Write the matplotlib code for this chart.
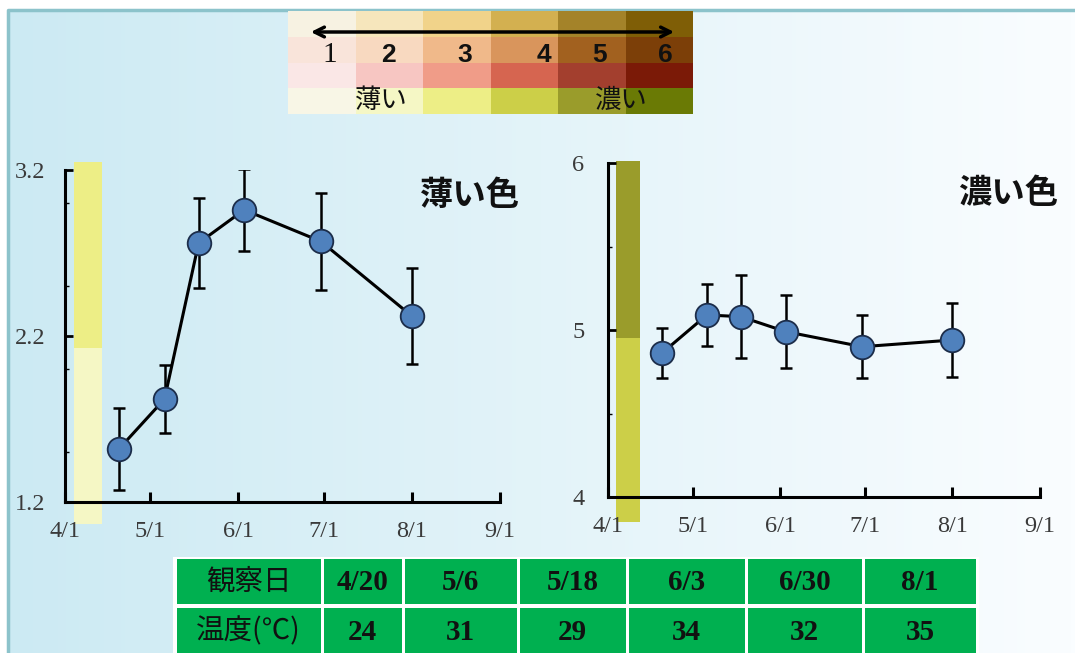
import datetime as dt
import numpy as np
import matplotlib
matplotlib.use("Agg")
import matplotlib.pyplot as plt
from matplotlib.patches import Rectangle
import matplotlib.ticker as mticker

# ---------------- data ----------------
obs_dates = ["4/20", "5/6", "5/18", "6/3", "6/30", "8/1"]
temps = [24, 31, 29, 34, 32, 35]
light_mean = [1.52, 1.82, 2.76, 2.96, 2.77, 2.32]
light_err = [0.245, 0.205, 0.27, 0.245, 0.29, 0.29]
dark_mean = [4.86, 5.09, 5.08, 4.99, 4.90, 4.94]
dark_err = [0.15, 0.185, 0.25, 0.22, 0.19, 0.22]
month_ticks = ["4/1", "5/1", "6/1", "7/1", "8/1", "9/1"]
light_ticks = [1.2, 2.2, 3.2]
dark_ticks = [4, 5, 6]
light_band_edges = [1.07, 2.13, 3.25]
dark_band_edges = [3.85, 4.95, 6.01]
scale_labels = ["1", "2", "3", "4", "5", "6"]
scale_colors = [
    ["#F7F2E2", "#F6E6BC", "#F1D38A", "#D3B050", "#A48329", "#7F5E06"],
    ["#F9E4DA", "#F8D9C0", "#F0B98A", "#D9955C", "#A2611F", "#7C3F08"],
    ["#FAE7E6", "#F7C6C2", "#F09C88", "#D66550", "#A33F2E", "#7B1A07"],
    ["#F8F6E6", "#F5F7C5", "#EDEE86", "#CCCF48", "#9A9C2B", "#6A7A05"],
]
light_band_colors = [scale_colors[3][1], scale_colors[3][2]]
dark_band_colors = [scale_colors[3][3], scale_colors[3][4]]
row_headers = ["観察日", "温度(℃)"]

CJK = ["Noto Sans CJK JP", "DejaVu Sans"]
SERIF = ["Liberation Serif", "DejaVu Serif"]
plt.rcParams["font.family"] = SERIF


def to_day(s):
    m, d = map(int, s.split("/"))
    return (dt.date(2001, m, d) - dt.date(2001, 4, 1)).days


W, H = 1075, 653
fig = plt.figure(figsize=(W / 100, H / 100), dpi=100)
fig.patch.set_facecolor("white")

# ---------------- background gradient ----------------
bg = fig.add_axes([8 / W, 0, 1 - 8 / W, 1 - 10 / H], zorder=-5)
c0 = np.array([204, 234, 243]) / 255
c1 = np.array([250, 253, 255]) / 255
t = np.linspace(0, 1, 256)
grad = (c0[None, :] * (1 - t[:, None]) + c1[None, :] * t[:, None])[None, :, :]
bg.imshow(grad, aspect="auto", extent=[0, 1, 0, 1])
bg.set_xlim(0, 1)
bg.set_ylim(0, 1)
bg.set_axis_off()
bg.plot([0, 0, 1], [0, 1, 1], color="#8CC3CB", lw=2.5, clip_on=False)

# ---------------- panels ----------------
xdays = [to_day(s) for s in obs_dates]
mdays = [to_day(s) for s in month_ticks]


def panel(rect, mean, err, yticks, band_edges, band_colors, band_x, title, title_xy, ypad):
    ax = fig.add_axes(rect)
    ax.patch.set_visible(False)
    ax.set_xlim(mdays[0], mdays[-1])
    ax.set_ylim(yticks[0], yticks[-1])
    for s in ["top", "right"]:
        ax.spines[s].set_visible(False)
    for s in ["left", "bottom"]:
        ax.spines[s].set_linewidth(2.2)
        ax.spines[s].set_color("black")
        ax.spines[s].set_zorder(2)
    ax.set_xticks(mdays)
    ax.set_xticklabels(month_ticks)
    ax.set_yticks(yticks)
    ax.set_yticklabels([f"{v:g}" for v in yticks])
    ax.yaxis.set_minor_locator(mticker.MultipleLocator((yticks[1] - yticks[0]) / 2))
    ax.tick_params(axis="x", direction="in", length=7, width=2.2, pad=14,
                   labelsize=17.5, labelcolor="#3a3a3a")
    ax.tick_params(axis="y", which="major", direction="in", length=6, width=2,
                   pad=ypad, labelsize=17.5, labelcolor="#3a3a3a")
    ax.tick_params(axis="y", which="minor", direction="in", length=3, width=1)
    for (lo, hi), col in zip(zip(band_edges[:-1], band_edges[1:]), band_colors):
        ax.add_patch(Rectangle((band_x[0], lo), band_x[1] - band_x[0], hi - lo,
                               facecolor=col, edgecolor="none", clip_on=False, zorder=1))
    ax.errorbar(xdays, mean, yerr=err, fmt="-", color="black", lw=2.2,
                ecolor="black", elinewidth=1.8, capsize=4, capthick=1.8, zorder=3)
    ax.plot(xdays, mean, "o", ms=17, mfc="#4F81BD", mec="#1C2D4A", mew=1.3, zorder=4)
    ax.text(title_xy[0], title_xy[1], title, transform=ax.transAxes, ha="center",
            va="center", fontsize=24, fontweight="bold", family=CJK, color="#111111")
    return ax


panel([65 / W, 1 - 502 / H, 435 / W, 332 / H], light_mean, light_err, light_ticks,
      light_band_edges, light_band_colors, (3.2, 13.0), "薄い色", (0.931, 0.922), 14)
panel([608 / W, 1 - 497 / H, 432 / W, 334 / H], dark_mean, dark_err, dark_ticks,
      dark_band_edges, dark_band_colors, (2.8, 11.3), "濃い色", (0.926, 0.91), 17)

# ---------------- overlay (colour scale + table) ----------------
ov = fig.add_axes([0, 0, 1, 1], zorder=10)
ov.set_xlim(0, W)
ov.set_ylim(H, 0)
ov.set_axis_off()
ov.patch.set_visible(False)

sx0, sw, sy0, sh = 288, 405 / 6, 11, 103 / 4
for r, row in enumerate(scale_colors):
    for c, col in enumerate(row):
        ov.add_patch(Rectangle((sx0 + c * sw, sy0 + r * sh), sw, sh,
                               facecolor=col, edgecolor="none"))
ov.annotate("", xy=(677, 32), xytext=(308, 32),
            arrowprops=dict(arrowstyle="<->,head_length=0.7,head_width=0.35",
                            lw=2.5, color="black"))
num_dx = [8, -1, 8, 20, 8, 6]
for i, lab in enumerate(scale_labels):
    x = sx0 + (i + 0.5) * sw + num_dx[i]
    if i == 0:
        ov.text(x, 55, lab, ha="center", va="center", fontsize=21, family=SERIF, color="#111111")
    else:
        ov.text(x, 55, lab, ha="center", va="center", fontsize=19, fontweight="bold",
                family=["Liberation Sans", "DejaVu Sans"], color="#111111")
ov.text(381, 100, "薄い", ha="center", va="center", fontsize=19, family=CJK, color="#111111")
ov.text(621, 100, "濃い", ha="center", va="center", fontsize=19, family=CJK, color="#111111")

# table
col_edges = [175, 322, 403, 518, 627, 746, 863, 977]
row_edges = [(559, 604), (608, 662)]
ov.add_patch(Rectangle((173, 557), 806, 110, facecolor="white", edgecolor="none"))
cells = [[row_headers[0]] + obs_dates, [row_headers[1]] + [str(v) for v in temps]]
for r, (y0, y1) in enumerate(row_edges):
    for c in range(len(col_edges) - 1):
        x0, x1 = col_edges[c] + 1.5, col_edges[c + 1] - 1.5
        ov.add_patch(Rectangle((x0, y0), x1 - x0, y1 - y0, facecolor="#00B050", edgecolor="none"))
        yc = (y0 + y1) / 2 if r == 0 else 631
        if c == 0:
            ov.text((x0 + x1) / 2, yc, cells[r][c], ha="center", va="center",
                    fontsize=20.5, family=CJK, color="#111111")
        else:
            ov.text((x0 + x1) / 2, yc + 1, cells[r][c], ha="center", va="center",
                    fontsize=21, fontweight="bold", family=SERIF, color="#111111")

fig.savefig("out.png", dpi=100)
